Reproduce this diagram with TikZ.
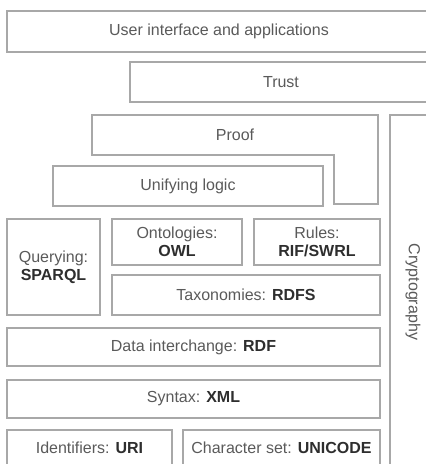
\documentclass[tikz,border=0pt]{standalone}
\usepackage{fontspec}
\setmainfont{Liberation Sans}
\definecolor{txt}{HTML}{5A5A5A}
\definecolor{btxt}{HTML}{2E2E2E}
\definecolor{edge}{HTML}{A8A8A8}
\newcommand{\bw}[1]{\textcolor{btxt}{\bfseries #1}}
\begin{document}
\begin{tikzpicture}[x=1pt,y=-1pt,
  layer/.style={draw=edge, line width=1.8pt, fill=white, inner sep=0pt, outer sep=0pt,
    anchor=north west, align=center, text=txt, font=\fontsize{16}{18}\selectfont},
  lbl/.style={text=txt, font=\fontsize{16}{18}\selectfont, align=center}]
\useasboundingbox (0,0) rectangle (426,464);
\clip (0,0) rectangle (426,464);
\fill[white] (0,0) rectangle (426,464);
% User interface
\node[layer, minimum width=430pt, minimum height=41pt] (ui) at (7,11) {};
\node[lbl] (uit) at (219,31) {User interface and applications};
% Trust
\node[layer, minimum width=310pt, minimum height=40pt] (trust) at (130,62) {};
\node[lbl] (trustt) at (281,82) {Trust};
% Proof (L-shape)
\draw[draw=edge, line width=1.8pt, fill=white, line join=miter]
  (92,115) -- (378,115) -- (378,204) -- (334,204) -- (334,155) -- (92,155) -- cycle;
\node[lbl] (proof) at (235,135) {Proof};
% Cryptography
\node[layer, minimum width=50pt, minimum height=360pt] (crypto) at (390,115) {};
\node[lbl, rotate=-90] (cryptot) at (413,292) {Cryptography};
% Unifying logic
\node[layer, minimum width=270pt, minimum height=40pt] (ul) at (53,166) {Unifying logic};
% Querying
\node[layer, minimum width=93pt, minimum height=96pt] (query) at (7,219) {Querying:\\\bw{SPARQL}};
% Ontologies
\node[layer, minimum width=130pt, minimum height=46pt] (onto) at (112,219) {Ontologies:\\\bw{OWL}};
% Rules
\node[layer, minimum width=126pt, minimum height=46pt] (rules) at (254,219) {Rules:\\\bw{RIF/SWRL}};
% Taxonomies
\node[layer, minimum width=268pt, minimum height=40pt] (tax) at (112,275) {Taxonomies: \bw{RDFS}};
% Data interchange
\node[layer, minimum width=373pt, minimum height=38pt] (rdf) at (7,328) {Data interchange: \bw{RDF}};
% Syntax
\node[layer, minimum width=373pt, minimum height=38pt] (xml) at (7,380) {Syntax: \bw{XML}};
% Identifiers
\node[layer, minimum width=165pt, minimum height=44pt] (uri) at (7,430) {};
\node[lbl] (urit) at (89.5,448) {Identifiers: \bw{URI}};
% Character set
\node[layer, minimum width=197pt, minimum height=44pt] (uni) at (183,430) {};
\node[lbl] (unit) at (281.5,448) {Character set: \bw{UNICODE}};
\end{tikzpicture}
\end{document}
